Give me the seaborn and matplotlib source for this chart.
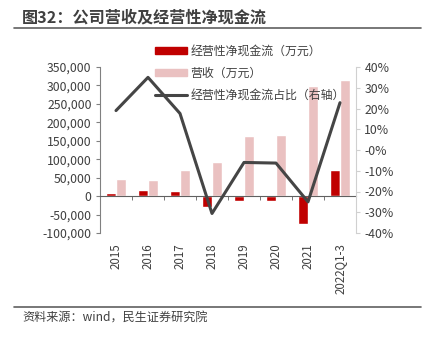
import numpy as np
import pandas as pd
import matplotlib
matplotlib.use("Agg")
import matplotlib.pyplot as plt
import seaborn as sns
from matplotlib.lines import Line2D
from matplotlib.ticker import FuncFormatter, FixedLocator

categories = ["2015", "2016", "2017", "2018", "2019", "2020", "2021", "2022Q1-3"]
cash_flow = [9000, 16000, 13000, -30000, -12000, -14000, -76000, 71500]
revenue = [47000, 44000, 71000, 92000, 164000, 165000, 298000, 315000]
ratio = [0.19, 0.35, 0.176, -0.306, -0.06, -0.063, -0.25, 0.228]

s_cash = "经营性净现金流（万元）"
s_rev = "营收（万元）"
s_ratio = "经营性净现金流占比（右轴）"

sns.set_style("white")
plt.rcParams["font.family"] = ["Noto Sans CJK SC", "DejaVu Sans"]

RED = "#C00000"
PINK = "#EAC1C1"
LINE = "#454545"
TXT = "#404040"

df = pd.DataFrame({
    "cat": categories * 2,
    "val": cash_flow + revenue,
    "series": [s_cash] * len(categories) + [s_rev] * len(categories),
})

fig = plt.figure(figsize=(4.3, 3.42), dpi=100)
ax = fig.add_axes([100 / 430, 1 - 233 / 342, 256 / 430, 166 / 342])

sns.barplot(data=df, x="cat", y="val", hue="series", order=categories,
            hue_order=[s_cash, s_rev], palette=[RED, PINK], width=0.6,
            ax=ax, legend=False, saturation=1)
ax.set_ylim(-100000, 350000)
ax.set_xlim(-0.5, len(categories) - 0.5)
ax.set_yticks(np.arange(-100000, 350001, 50000))
ax.yaxis.set_major_formatter(FuncFormatter(lambda v, p: f"{int(v):,}"))
ax.set_xlabel("")
ax.set_ylabel("")

ax2 = ax.twinx()
sns.lineplot(x=np.arange(len(categories)), y=ratio, ax=ax2, color=LINE,
             linewidth=2.2)
ax2.set_ylim(-0.4, 0.4)
ax2.set_yticks(np.arange(-0.4, 0.401, 0.1))
ax2.yaxis.set_major_formatter(FuncFormatter(lambda v, p: f"{v*100:.0f}%"))
ax2.set_ylabel("")

# spines
for a in (ax, ax2):
    a.spines["top"].set_visible(False)
ax.spines["right"].set_visible(False)
ax2.spines["left"].set_visible(False)
ax2.spines["bottom"].set_visible(False)
ax.spines["left"].set_color("#808080")
ax.spines["left"].set_linewidth(0.8)
ax2.spines["right"].set_color("#D0D0D0")
ax2.spines["right"].set_linewidth(0.8)
ax.spines["bottom"].set_position(("data", 0))
ax.spines["bottom"].set_color("#606060")
ax.spines["bottom"].set_linewidth(0.8)

ax.tick_params(axis="y", direction="out", length=3, color="#808080",
               labelsize=8.8, labelcolor=TXT, pad=3, left=True)
ax2.tick_params(axis="y", direction="out", length=3, color="#D0D0D0",
                labelsize=8.8, labelcolor=TXT, pad=3, right=True)

ax.set_xticks(np.arange(len(categories)))
ax.set_xticklabels(categories, rotation=90, fontsize=8.3, color=TXT)
ax.tick_params(axis="x", which="major", length=0, pad=34)
ax.xaxis.set_minor_locator(FixedLocator(np.arange(-0.5, len(categories), 1.0)))
ax.tick_params(axis="x", which="minor", bottom=True, length=3, color="#606060",
               direction="out")
ax.grid(False)
ax2.grid(False)

handles = [
    plt.Rectangle((0, 0), 1, 1, color=RED),
    plt.Rectangle((0, 0), 1, 1, color=PINK),
    Line2D([0], [0], color=LINE, linewidth=2.2),
]
fig.legend(handles, [s_cash, s_rev, s_ratio], loc="upper left",
           bbox_to_anchor=(150 / 430, 1 - 40 / 342), frameon=False,
           fontsize=8.6, labelcolor=TXT, handlelength=2.7, handleheight=0.55,
           labelspacing=0.75, handletextpad=0.3, borderaxespad=0)

# title and rules
fig.text(22 / 430, 1 - 17 / 342, "图32：公司营收及经营性净现金流", fontsize=11.6,
         fontweight="bold", color=TXT, va="center", ha="left")
fig.add_artist(Line2D([14 / 430, 421 / 430], [1 - 28 / 342, 1 - 28 / 342],
                      color="#606060", linewidth=1.2))
fig.add_artist(Line2D([14 / 430, 421 / 430], [1 - 307 / 342, 1 - 307 / 342],
                      color="#606060", linewidth=1.2))
fig.text(22 / 430, 1 - 318 / 342, "资料来源：wind，民生证券研究院", fontsize=8.7,
         color=TXT, va="center", ha="left")

fig.savefig("out.png", dpi=100)
